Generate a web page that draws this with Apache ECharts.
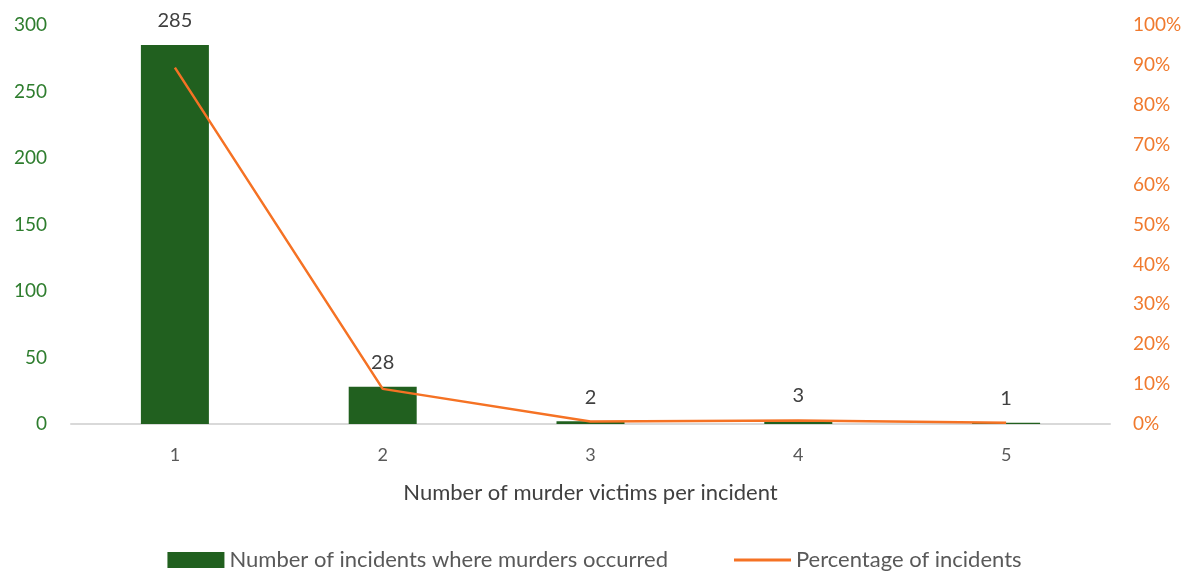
<!DOCTYPE html>
<html><head><meta charset="utf-8">
<script src="https://cdn.jsdelivr.net/npm/echarts@6/dist/echarts.min.js"></script>
<style>html,body{margin:0;padding:0;background:#fff}#c{width:1189px;height:576px}</style>
</head><body><div id="c"></div>
<script>
const categories = ['1','2','3','4','5'];
const incidents = [285, 28, 2, 3, 1];
const percentages = [89.3, 8.8, 0.6, 0.9, 0.3];
const leftTicks = [0, 300, 50];
const rightTicks = [0, 100, 10];

const FONT = 'Lato';
const chart = echarts.init(document.getElementById('c'));
chart.setOption({
  animation: false,
  textStyle: { fontFamily: FONT },
  grid: { left: 71, right: 79, top: 25, bottom: 152 },
  legend: {
    bottom: 0, left: 'center', itemGap: 66, itemWidth: 57, itemHeight: 16, itemTextGap: 3,
    textStyle: { fontSize: 22, color: '#595959', fontFamily: FONT },
    data: [
      { name: 'Number of incidents where murders occurred', icon: 'rect' },
      { name: 'Percentage of incidents', icon: 'path://M0,0h57v3h-57z' }
    ]
  },
  xAxis: {
    type: 'category', data: categories,
    name: 'Number of murder victims per incident', nameLocation: 'middle', nameGap: 58,
    nameTextStyle: { fontSize: 22, color: '#404040' },
    axisLine: { lineStyle: { color: '#d9d9d9', width: 2 } },
    axisTick: { show: false },
    axisLabel: { fontSize: 18, color: '#595959', margin: 22 }
  },
  yAxis: [
    { type: 'value', min: leftTicks[0], max: leftTicks[1], interval: leftTicks[2],
      axisLine: { show: false }, axisTick: { show: false }, splitLine: { show: false },
      axisLabel: { fontSize: 19, color: '#2e7d2e', margin: 24 } },
    { type: 'value', min: rightTicks[0], max: rightTicks[1], interval: rightTicks[2],
      axisLine: { show: false }, axisTick: { show: false }, splitLine: { show: false },
      axisLabel: { fontSize: 19, color: '#F07A2E', margin: 23, formatter: '{value}%' } }
  ],
  series: [
    { name: 'Number of incidents where murders occurred', type: 'bar', data: incidents,
      barWidth: 68, itemStyle: { color: '#21601F' },
      label: { show: true, position: 'top', distance: 14, fontSize: 20, color: '#404040' } },
    { name: 'Percentage of incidents', type: 'line', yAxisIndex: 1, data: percentages,
      symbol: 'none', lineStyle: { color: '#F57224', width: 2.5 }, itemStyle: { color: '#F57224' } }
  ]
});
</script></body></html>
